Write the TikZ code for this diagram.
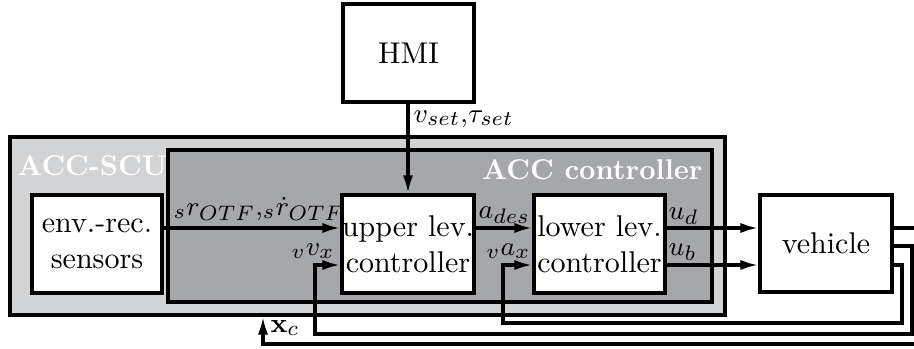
\documentclass[tikz,border=0pt]{standalone}
\usetikzlibrary{arrows.meta}
\definecolor{scugray}{RGB}{210,211,213}
\definecolor{ctrlgray}{RGB}{166,167,171}
\begin{document}
\begin{tikzpicture}[x=0.333pt,y=-0.333pt,
  sz/.style 2 args={minimum width=#1*0.333pt, minimum height=#2*0.333pt},
  blk/.style={draw, line width=1.05pt, fill=white, inner sep=0pt, align=center},
  area/.style={draw, line width=1.05pt, inner sep=0pt},
  conn/.style={line width=1.05pt},
  arr/.style={conn, -{Latex[length=6pt,width=3.4pt]}},
  lbl/.style={inner sep=0pt, font=\fontsize{9.5}{11.4}\selectfont},
  ttl/.style={text=white, font=\fontsize{9.5}{11}\selectfont\bfseries, inner sep=0pt}]
\useasboundingbox (0,0) rectangle (914,349);
% areas
\node[area, fill=scugray, sz={715}{178}] (scu) at (367.5,226) {};
\node[area, fill=ctrlgray, sz={544}{152}] (ctrl) at (440,226) {};
\node[ttl, anchor=base west] (scut) at (17,175) {ACC-SCU};
\node[ttl, anchor=base east] (ctrlt) at (703,180) {ACC controller};
% blocks
\node[blk, sz={131}{98}] (hmi) at (408.5,53) {HMI};
\node[blk, sz={130}{98}] (env) at (97,244) {env.-rec.\\sensors};
\node[blk, sz={130}{98}] (upper) at (408,244) {upper lev.\\controller};
\node[blk, sz={131}{98}] (lower) at (599.5,244) {lower lev.\\controller};
\node[blk, sz={132}{97}] (vehicle) at (826,243.5) {vehicle};
% helper coordinates
\coordinate (yA) at (0,228);
\coordinate (yM) at (0,246);
\coordinate (yB) at (0,265);
\coordinate (c1) at (925,344);
\coordinate (c2) at (263,344);
\coordinate (d1) at (912,334);
\coordinate (d2) at (315,334);
\coordinate (e1) at (902,323);
\coordinate (e2) at (503,323);
% connectors
\draw[arr] (hmi.south -| upper.north) -- (upper.north);
\draw[arr] (env.east |- yA) -- (upper.west |- yA);
\draw[arr] (upper.east |- yA) -- (lower.west |- yA);
\draw[arr] (lower.east |- yA) -- (vehicle.west |- yA);
\draw[arr] (lower.east |- yB) -- (vehicle.west |- yB);
\draw[arr] (vehicle.east |- yA) -| (c1) -- (c2) -- (c2 |- scu.south);
\draw[arr] (vehicle.east |- yM) -| (d1) -- (d2) |- (upper.west |- yB);
\draw[arr] (vehicle.east |- yB) -| (e1) -- (e2) |- (lower.west |- yB);
% labels
\node[lbl, anchor=base west] (lset) at (413,122) {$v_{set}{,}\tau_{set}$};
\node[lbl, anchor=base west] (lsr) at (173,215) {${}_s r_{OTF}{,}{}_s\dot r_{OTF}$};
\node[lbl, anchor=base east] (lvv) at (335,255) {${}_v v_x$};
\node[lbl, anchor=base west] (lades) at (478,218) {$a_{des}$};
\node[lbl, anchor=base east] (lvax) at (531,255) {${}_v a_x$};
\node[lbl, anchor=base west] (lud) at (668,219) {$u_d$};
\node[lbl, anchor=base west] (lub) at (668,255) {$u_b$};
\node[lbl, anchor=base west] (lxc) at (270,332) {$\mathbf{x}_c$};
\end{tikzpicture}
\end{document}
